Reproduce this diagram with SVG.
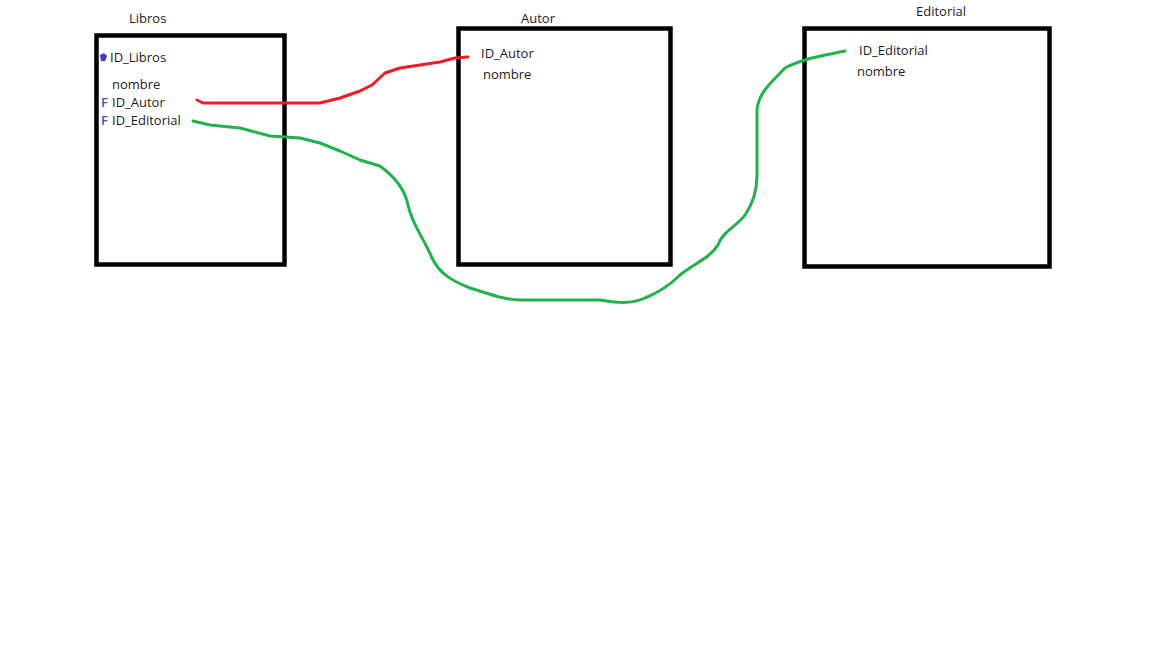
<svg xmlns="http://www.w3.org/2000/svg" width="1152" height="648" viewBox="0 0 1152 648">
<style>
.box{fill:none;stroke:#000;stroke-width:4.5}
.t{font-family:"Open Sans","Noto Sans",sans-serif;font-size:13px;fill:#1c1c1c}
.f{font-family:"Open Sans","Noto Sans",sans-serif;font-size:13px;fill:#4848c8;font-weight:600}
.c{fill:none;stroke-width:3;stroke-linecap:round;stroke-linejoin:round}
</style>
<rect width="1152" height="648" fill="#fff"/>
<g id="libros">
<rect class="box" x="96.5" y="35.5" width="188" height="229"/>
<text class="t" x="129" y="23">Libros</text>
<path d="M100 55 L104 53 L107 56 L105 61 L101 61 Z" fill="#3a3ad0"/>
<text class="t" x="110" y="62">ID_Libros</text>
<text class="t" x="112" y="89">nombre</text>
<text class="f" x="101" y="107">F</text>
<text class="t" x="112" y="107">ID_Autor</text>
<text class="f" x="101" y="125">F</text>
<text class="t" x="112" y="125">ID_Editorial</text>
</g>
<g id="autor">
<rect class="box" x="458.5" y="28.5" width="212" height="236"/>
<text class="t" x="521" y="23">Autor</text>
<text class="t" x="481" y="58">ID_Autor</text>
<text class="t" x="483" y="79">nombre</text>
</g>
<g id="editorial">
<rect class="box" x="804.5" y="28.5" width="245" height="238"/>
<text class="t" x="916" y="16">Editorial</text>
<text class="t" x="859" y="55">ID_Editorial</text>
<text class="t" x="857" y="76">nombre</text>
</g>
<g id="connectors">
<path class="c" stroke="#ee1c24" d="M197 100 L203 103 L230 103 L320 103 L340 98 L360 91 L372 85 L385 73 L400 68 L420 65 L440 62 L455 58 L468 57"/>
<path class="c" stroke="#22b14c" d="M193 121 L210 125 L240 128 L270 136 L300 138 L320 143 L340 151 L360 160 L380 166 C395 177 405 190 408 205 C412 225 425 240 432 258 C440 275 455 282 470 288 C490 294 505 300 520 300 L600 300 C612 302 630 305 645 298 C660 292 670 285 680 275 C695 263 710 258 718 245 C722 232 738 225 745 215 C752 205 757 190 757 175 L757 110 C758 95 768 85 785 68 C800 60 815 57 845 51"/>
</g>
</svg>
